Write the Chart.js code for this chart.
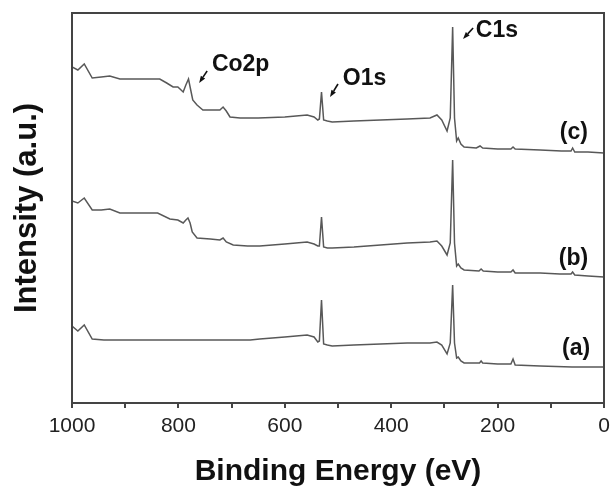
<!DOCTYPE html>
<html>
<head>
<meta charset="utf-8">
<script src="https://cdn.jsdelivr.net/npm/chart.js@4.4.1/dist/chart.umd.min.js"></script>
<style>
  html, body { margin: 0; padding: 0; background: #fff; }
  #wrap { width: 610px; height: 487px; }
</style>
</head>
<body>
<div id="wrap"><canvas id="c" width="610" height="487"></canvas></div>
<script>
// ---- data (binding energy in eV, intensity in arbitrary units) ----
const energyC = [1000, 989, 977, 962, 945, 929, 910, 870, 835, 822, 810, 801, 791, 786, 781, 778, 773, 765, 754, 735, 722, 716, 710, 703, 684, 650, 600, 558, 545, 538, 535, 531, 527, 520, 511, 470, 420, 370, 327, 314, 305, 295, 289, 284.5, 281, 277, 274, 269, 263, 240, 233, 228, 200, 175, 171, 167, 120, 80, 62, 59, 55, 30, 0];
const intensityC = [336, 333, 339, 325, 326, 327, 324, 324, 324, 320, 316, 316, 311, 318, 324, 316, 303, 298, 293, 293, 293, 296, 292, 286, 285, 285, 286, 288, 286, 283, 284, 311, 283, 282, 281, 282, 283, 284, 285, 288, 283, 272, 285, 376, 285, 262, 265, 259, 256, 255, 257, 255, 254, 254, 256, 254, 253, 252, 252, 255, 251, 251, 250];

const energyB = [1000, 989, 977, 962, 945, 929, 910, 870, 839, 816, 801, 791, 786, 782, 778, 774, 765, 740, 722, 716, 710, 697, 670, 647, 600, 558, 545, 538, 535, 531, 527, 520, 511, 470, 420, 370, 327, 314, 305, 295, 289, 284.5, 281, 277, 274, 269, 263, 235, 231, 227, 200, 175, 171, 167, 120, 83, 62, 59, 55, 30, 0];
const intensityB = [202, 200, 205, 193, 193, 194, 190, 190, 190, 184, 183, 180, 183, 185, 180, 171, 165, 164, 163, 165, 161, 158, 157, 157, 159, 161, 159, 157, 157, 186, 156, 155, 155, 156, 158, 160, 161, 162, 157, 148, 160, 243, 160, 137, 139, 135, 133, 132, 134, 132, 131, 131, 133, 130, 130, 129, 129, 131, 128, 127, 126];

const energyA = [1000, 989, 977, 962, 940, 900, 800, 700, 665, 647, 600, 558, 545, 538, 535, 531, 527, 520, 511, 470, 420, 370, 327, 314, 305, 295, 289, 284.5, 281, 277, 274, 269, 263, 240, 234, 231, 228, 200, 175, 171, 167, 120, 60, 0];
const intensityA = [77, 72, 78, 64, 63, 63, 63, 63, 63, 64, 66, 68, 66, 61, 62, 103, 59, 58, 57, 58, 59, 60, 60, 61, 58, 49, 60, 118, 60, 45, 46, 42, 40, 40, 40, 42, 40, 39, 39, 44, 38, 37, 36, 36];

const xTickLabels = [1000, 800, 600, 400, 200, 0];
const seriesLabels = ['(a)', '(b)', '(c)'];
const peakLabels = ['Co2p', 'O1s', 'C1s'];
const xTitle = 'Binding Energy (eV)';
const yTitle = 'Intensity (a.u.)';

function pts(xs, ys) { return xs.map((x, i) => ({ x: x, y: ys[i] })); }

const FONT = "'Liberation Sans', Arial, Helvetica, sans-serif";
Chart.defaults.font.family = FONT;

const LINE = '#585858';
const AXIS = '#444';

const framePlugin = {
  id: 'frame',
  afterDraw(chart) {
    const { ctx, chartArea: a } = chart;
    ctx.save();
    ctx.strokeStyle = AXIS;
    ctx.lineWidth = 2;
    ctx.strokeRect(a.left, a.top, a.right - a.left, a.bottom - a.top);
    ctx.restore();
  }
};

function arrow(ctx, x1, y1, x2, y2) {
  const ang = Math.atan2(y2 - y1, x2 - x1);
  const hl = 7, hw = 2.6;
  const bx = x2 - hl * Math.cos(ang), by = y2 - hl * Math.sin(ang);
  ctx.beginPath();
  ctx.moveTo(x1, y1);
  ctx.lineTo(bx, by);
  ctx.lineWidth = 1.6;
  ctx.strokeStyle = '#111';
  ctx.stroke();
  ctx.beginPath();
  ctx.moveTo(x2, y2);
  ctx.lineTo(bx + hw * Math.sin(ang), by - hw * Math.cos(ang));
  ctx.lineTo(bx - hw * Math.sin(ang), by + hw * Math.cos(ang));
  ctx.closePath();
  ctx.fillStyle = '#111';
  ctx.fill();
}

const annotPlugin = {
  id: 'annot',
  afterDatasetsDraw(chart) {
    const { ctx } = chart;
    const xs = chart.scales.x, ys = chart.scales.y;
    const X = v => xs.getPixelForValue(v), Y = v => ys.getPixelForValue(v);
    ctx.save();
    ctx.fillStyle = '#111';
    ctx.font = 'bold 23px ' + FONT;
    ctx.textAlign = 'left';
    ctx.textBaseline = 'alphabetic';
    // peak labels
    ctx.fillText(peakLabels[0], X(737), Y(332));
    arrow(ctx, X(746), Y(332), X(761), Y(320));
    ctx.fillText(peakLabels[1], X(491), Y(318));
    arrow(ctx, X(500), Y(319), X(515), Y(306));
    ctx.fillText(peakLabels[2], X(241), Y(366));
    arrow(ctx, X(246), Y(375), X(265), Y(364));
    // series labels
    ctx.fillText(seriesLabels[2], X(83), Y(264));
    ctx.fillText(seriesLabels[1], X(85), Y(138));
    ctx.fillText(seriesLabels[0], X(79), Y(48));
    ctx.restore();
  }
};

const ds = (xs, ys) => ({
  data: pts(xs, ys),
  borderColor: LINE,
  borderWidth: 1.5,
  pointRadius: 0,
  tension: 0,
  fill: false
});

new Chart(document.getElementById('c'), {
  type: 'line',
  data: { datasets: [ds(energyA, intensityA), ds(energyB, intensityB), ds(energyC, intensityC)] },
  options: {
    responsive: false,
    animation: false,
    events: [],
    layout: { padding: { left: 0, right: 6, top: 13, bottom: 0 } },
    plugins: { legend: { display: false }, tooltip: { enabled: false } },
    scales: {
      x: {
        type: 'linear',
        reverse: true,
        min: 0,
        max: 1000,
        afterFit: s => { s.height = 84; s.paddingLeft = 0; s.paddingRight = 0; },
        ticks: {
          stepSize: 100,
          autoSkip: false,
          maxRotation: 0,
          padding: 6,
          color: '#222',
          font: { size: 21 },
          callback: v => xTickLabels.includes(v) ? String(v) : ''
        },
        grid: { display: true, drawOnChartArea: false, drawTicks: true, tickLength: 5, color: AXIS, lineWidth: 2 },
        border: { display: true, color: AXIS, width: 2 },
        title: { display: true, text: xTitle, color: '#111', font: { size: 30, weight: 'bold', lineHeight: 1 }, padding: 0 }
      },
      y: {
        min: 0,
        max: 390,
        afterFit: s => { s.width = 72; s.paddingTop = 0; s.paddingBottom = 0; },
        ticks: { display: false },
        grid: { display: false },
        border: { display: true, color: AXIS, width: 2 },
        title: { display: true, text: yTitle, color: '#111', font: { size: 31, weight: 'bold', lineHeight: 1 }, padding: { top: 12, bottom: 0 } }
      }
    }
  },
  plugins: [framePlugin, annotPlugin]
});
</script>
</body>
</html>
